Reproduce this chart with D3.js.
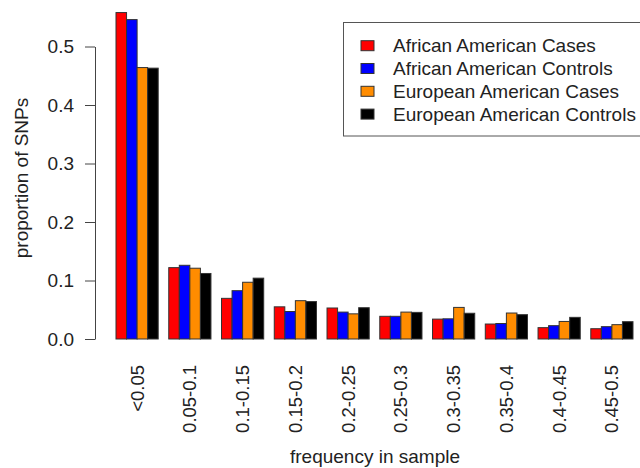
<!DOCTYPE html>
<html>
<head>
<meta charset="utf-8">
<script src="https://cdn.jsdelivr.net/npm/d3@7"></script>
<style>
  body { margin: 0; background: #fff; }
  text { font-family: "Liberation Sans", Arial, Helvetica, sans-serif; fill: #222; }
</style>
</head>
<body>
<div id="chart"></div>
<script>
// frequency bins and the four sample groups
const bins = ["<0.05", "0.05-0.1", "0.1-0.15", "0.15-0.2", "0.2-0.25", "0.25-0.3", "0.3-0.35", "0.35-0.4", "0.4-0.45", "0.45-0.5"];
const seriesNames = ["African American Cases", "African American Controls", "European American Cases", "European American Controls"];
const seriesColors = ["#ff0000", "#0000ff", "#ff8c00", "#000000"];

const aaCases    = [0.558, 0.122, 0.0695, 0.055, 0.053, 0.0388, 0.034, 0.0256, 0.0194, 0.0176];
const aaControls = [0.546, 0.126, 0.0826, 0.047, 0.046, 0.0388, 0.0345, 0.0265, 0.0228, 0.0211];
const eaCases    = [0.464, 0.121, 0.097, 0.0655, 0.043, 0.046, 0.054, 0.0444, 0.030, 0.0245];
const eaControls = [0.463, 0.112, 0.104, 0.064, 0.0535, 0.0455, 0.044, 0.0416, 0.037, 0.0296];

const yTicks = [0, 0.1, 0.2, 0.3, 0.4, 0.5];

const seriesValues = [aaCases, aaControls, eaCases, eaControls];
const rows = bins.map((b, i) => ({ bin: b, values: seriesValues.map((s, j) => ({ key: seriesNames[j], value: s[i] })) }));

const W = 640, H = 468;
const svg = d3.select("#chart").append("svg").attr("width", W).attr("height", H);

let x0 = d3.scaleBand().domain(bins).range([116, 633]).paddingInner(0.2).paddingOuter(0),
    x1 = d3.scaleBand().domain(seriesNames).range([0, x0.bandwidth()]),
    y = d3.scaleLinear().domain([0, 0.5]).range([339, 46.5]),
    color = d3.scaleOrdinal().domain(seriesNames).range(seriesColors);

// bars
let groups = svg.selectAll(".grp").data(rows).enter().append("g")
  .attr("transform", d => `translate(${x0(d.bin)},0)`);

groups.selectAll("rect").data(d => d.values).enter().append("rect")
  .attr("x", d => x1(d.key))
  .attr("y", d => y(d.value))
  .attr("width", x1.bandwidth())
  .attr("height", d => y(0) - y(d.value))
  .attr("fill", d => color(d.key))
  .attr("stroke", "#333").attr("stroke-width", 1);

// y axis
let yAxis = svg.append("g").attr("transform", "translate(95,0)")
  .call(d3.axisLeft(y).tickValues(yTicks).tickFormat(d3.format(".1f")).tickSize(10).tickSizeOuter(0).tickPadding(11));
yAxis.selectAll("path, line").attr("stroke", "#444");
yAxis.selectAll("text").style("font-size", "19px").attr("fill", "#222");

// category labels, rotated
svg.selectAll(".xlab").data(bins).enter().append("text")
  .attr("transform", d => `translate(${x0(d) + x0.bandwidth() / 2},365) rotate(-90)`)
  .attr("text-anchor", "end").attr("dy", "0.35em")
  .style("font-size", "18.5px")
  .text(d => d);

// axis titles
svg.append("text").attr("x", 375).attr("y", 463).attr("text-anchor", "middle")
  .style("font-size", "19px").text("frequency in sample");

svg.append("text").attr("transform", "translate(21,178) rotate(-90)")
  .attr("text-anchor", "middle").attr("dy", "0.35em")
  .style("font-size", "19px").text("proportion of SNPs");

// legend
let legend = svg.append("g");
legend.append("rect").attr("x", 343.5).attr("y", 22.5).attr("width", 320).attr("height", 113.5)
  .attr("fill", "#fff").attr("stroke", "#555").attr("stroke-width", 1);

let items = legend.selectAll(".item").data(seriesNames).enter().append("g")
  .attr("transform", (d, i) => `translate(0,${45.7 + i * 22.8})`);
items.append("rect").attr("x", 361).attr("y", -5).attr("width", 13).attr("height", 10)
  .attr("fill", d => color(d)).attr("stroke", "#333").attr("stroke-width", 1);
items.append("text").attr("x", 393).attr("dy", "0.35em").style("font-size", "19px").text(d => d);
</script>
</body>
</html>
